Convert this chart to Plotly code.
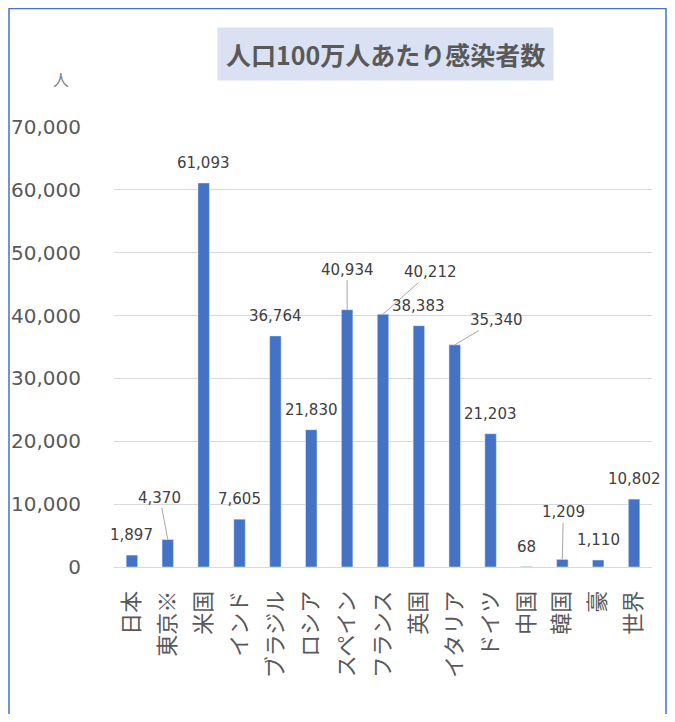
import plotly.graph_objects as go

# 人口100万人あたり感染者数
countries = ["日本", "東京※", "米国", "インド", "ブラジル", "ロシア", "スペイン", "フランス",
             "英国", "イタリア", "ドイツ", "中国", "韓国", "豪", "世界"]
cases = [1897, 4370, 61093, 7605, 36764, 21830, 40934, 40212,
         38383, 35340, 21203, 68, 1209, 1110, 10802]

# labels with leader lines: country -> (ax, ay) pixel offset
leaders = {"東京※": (-8, -42), "スペイン": (0, -40), "フランス": (47, -42),
           "イタリア": (42, -25), "韓国": (1, -47)}

FONT = "DejaVu Sans, Noto Sans CJK JP"
JFONT = "Noto Sans CJK JP"
GRAY = "#595959"

# page body has an 8px margin, so keep the figure inside the window
W, H = 659, 706
L, R, T, B = 106, 15, 119, 147
pw, ph = W - L - R, H - T - B


def px(x):
    return (x - L) / pw


def py(y):
    return (H - B - y) / ph


fig = go.Figure(go.Bar(x=countries, y=cases, marker_color="#4472C4", width=0.32))

anns = []
for c, v in zip(countries, cases):
    if c in leaders:
        ax, ay = leaders[c]
        anns.append(dict(x=c, y=v, text=f"{v:,}", showarrow=True, arrowhead=0,
                         arrowwidth=1, arrowcolor="#A6A6A6", ax=ax, ay=ay,
                         font=dict(size=15, color="#404040", family=FONT)))
    else:
        anns.append(dict(x=c, y=v, text=f"{v:,}", showarrow=False, yanchor="bottom",
                         yshift=9, font=dict(size=15, color="#404040", family=FONT)))

anns.append(dict(xref="paper", yref="paper", x=px(377), y=py(46), xanchor="center", yanchor="middle",
                 text="<b>人口100万人あたり感染者数</b>",
                 showarrow=False, bgcolor="#D9E1F2", borderpad=8,
                 font=dict(size=25, color=GRAY, family=JFONT)))
anns.append(dict(xref="paper", yref="paper", x=px(53), y=py(71), xanchor="center", yanchor="middle",
                 text="人", showarrow=False,
                 font=dict(size=16, color="#808080", family=JFONT)))

fig.update_layout(
    width=W, height=H,
    margin=dict(l=L, r=R, t=T, b=B, autoexpand=False),
    paper_bgcolor="white", plot_bgcolor="white",
    showlegend=False,
    annotations=anns,
    shapes=[dict(type="rect", xref="paper", yref="paper", x0=px(1), x1=px(W - 1), y0=py(H + 20), y1=py(0.5),
                 line=dict(color="#4472C4", width=1.5))],
    xaxis=dict(range=[-0.5, len(countries) - 0.5], tickangle=-90,
               tickfont=dict(size=22, color=GRAY, family=JFONT), automargin=False,
               showline=True, linecolor="#D9D9D9", ticks="", ticklabelstandoff=14),
    yaxis=dict(range=[0, 70000], dtick=10000, tickformat=",", showgrid=True, automargin=False,
               gridcolor="#D9D9D9", zeroline=False, ticks="",
               tickfont=dict(size=20, color=GRAY, family=FONT), ticklabelstandoff=32),
)

fig.write_html("out.html")
